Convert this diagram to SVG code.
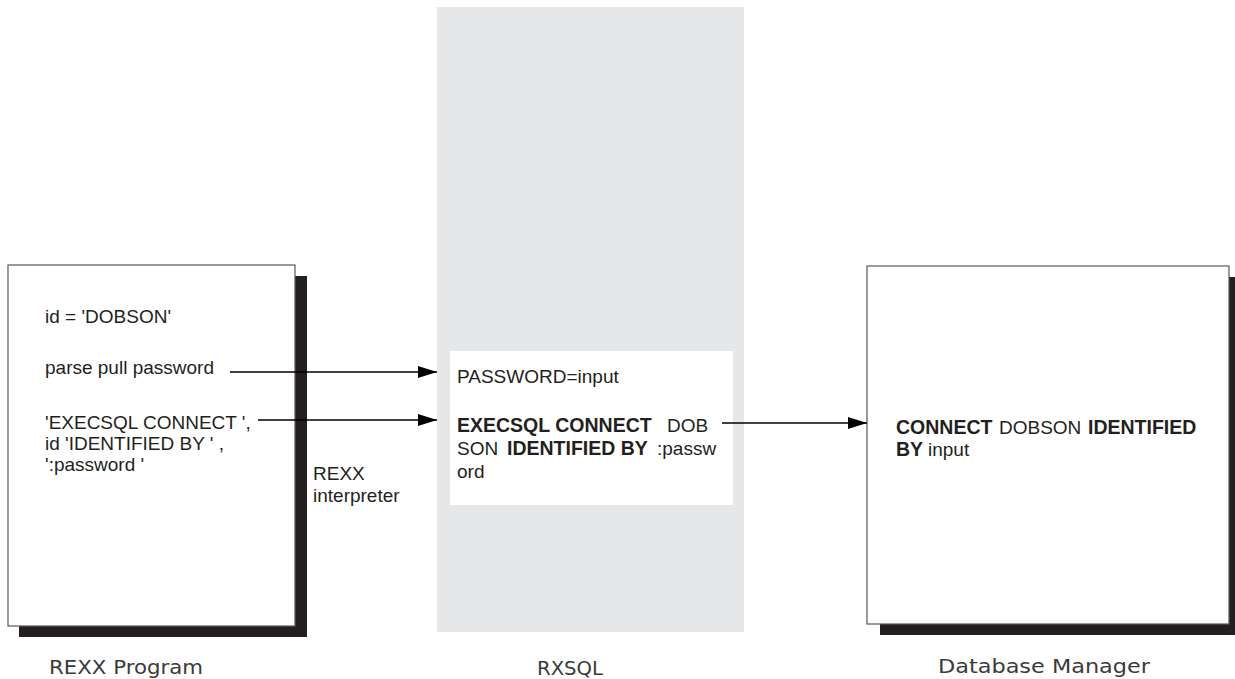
<svg xmlns="http://www.w3.org/2000/svg" width="1235" height="679" viewBox="0 0 1235 679">
  <style>
    .t { font-family: "Liberation Sans", Arial, sans-serif; font-size: 19px; fill: #231f20; }
    .b { font-weight: bold; font-size: 19.5px; }
    .lbl { font-family: "DejaVu Sans", "Liberation Sans", sans-serif; font-size: 20px; fill: #3a3a3a; }
    .box { fill: #ffffff; stroke: #58595b; stroke-width: 1.2; }
    .shadow { fill: #231f20; }
    .conn { stroke: #000000; stroke-width: 1.3; fill: none; marker-end: url(#arr); }
  </style>
  <defs>
    <marker id="arr" markerUnits="userSpaceOnUse" markerWidth="19" markerHeight="12" refX="19" refY="6" orient="auto">
      <path d="M0,0 L19,6 L0,12 Z" fill="#000000"/>
    </marker>
  </defs>
  <rect width="1235" height="679" fill="#ffffff"/>

  <g id="rxsql">
    <rect x="437" y="7" width="307" height="625" fill="#e6e7e8"/>
    <rect x="450" y="351" width="283" height="154" fill="#ffffff"/>
    <text class="t" x="457" y="383">PASSWORD=input</text>
    <text class="t" y="432"><tspan class="b" x="457">EXECSQL CONNECT</tspan><tspan x="667">DOB</tspan></text>
    <text class="t" y="455"><tspan x="457">SON</tspan><tspan class="b" x="507">IDENTIFIED BY</tspan><tspan x="657">:passw</tspan></text>
    <text class="t" x="457" y="478">ord</text>
    <text class="lbl" x="537" y="675" textLength="66" lengthAdjust="spacingAndGlyphs">RXSQL</text>
  </g>

  <g id="rexx-program">
    <rect class="shadow" x="19" y="276" width="288" height="361"/>
    <rect class="box" x="8" y="265" width="287" height="361"/>
    <text class="t" x="45" y="323">id = 'DOBSON'</text>
    <text class="t" x="45" y="374">parse pull password</text>
    <text class="t" x="45" y="429">'EXECSQL CONNECT ',</text>
    <text class="t" x="45" y="450">id 'IDENTIFIED BY ' ,</text>
    <text class="t" x="45" y="471">':password '</text>
    <text class="lbl" x="49" y="674" textLength="154" lengthAdjust="spacingAndGlyphs">REXX Program</text>
  </g>

  <g id="rexx-interpreter">
    <text class="t" x="313" y="480">REXX</text>
    <text class="t" x="313" y="502">interpreter</text>
  </g>

  <g id="database-manager">
    <rect class="shadow" x="880" y="277" width="362" height="358"/>
    <rect class="box" x="867" y="266" width="362" height="358"/>
    <text class="t" y="434"><tspan class="b" x="896">CONNECT</tspan><tspan x="999">DOBSON</tspan><tspan class="b" x="1088">IDENTIFIED</tspan></text>
    <text class="t" y="456"><tspan class="b" x="896">BY</tspan><tspan x="928">input</tspan></text>
    <text class="lbl" x="938" y="673" textLength="212" lengthAdjust="spacingAndGlyphs">Database Manager</text>
  </g>

  <g id="connectors">
    <line class="conn" x1="230" y1="372" x2="437" y2="372"/>
    <line class="conn" x1="258" y1="420" x2="437" y2="420"/>
    <line class="conn" x1="722" y1="423" x2="867" y2="423"/>
  </g>
</svg>
